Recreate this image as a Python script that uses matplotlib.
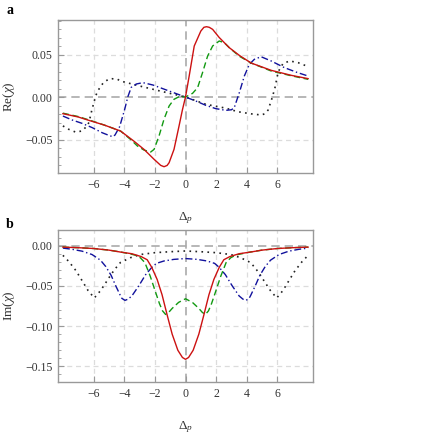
import matplotlib
matplotlib.use("Agg")
import matplotlib.pyplot as plt
from matplotlib.ticker import MultipleLocator, FixedLocator

# ---------------- data ----------------
# Panel a : Re(chi)
re_red_x = [-8.0, -7.0, -6.3, -5.3, -4.24, -3.36, -2.71, -2.05, -1.62, -1.40, -1.2, -1.07, -0.75,
            -0.42, -0.2, 0.0, 0.24, 0.57, 1.0, 1.2, 1.37, 1.55, 1.77, 2.2, 2.86, 3.51, 4.28, 5.59, 6.9, 8.0]
re_red_y = [-0.0196, -0.0235, -0.0275, -0.033, -0.040, -0.052, -0.0616, -0.0733, -0.0804, -0.082,
            -0.0805, -0.0773, -0.0616, -0.034, -0.015, 0.0, 0.0247, 0.060, 0.0776, 0.082, 0.0827,
            0.082, 0.0796, 0.070, 0.058, 0.049, 0.040, 0.0314, 0.0255, 0.0216]

re_green_x = [-8.0, -7.0, -6.3, -5.3, -4.24, -3.58, -3.14, -2.71, -2.27, -2.05, -1.73, -1.40, -1.07,
              -0.75, -0.42, 0.0, 0.46, 0.79, 1.11, 1.44, 1.77, 2.2, 2.53, 2.86, 3.51, 4.28, 5.59, 6.9, 8.0]
re_green_y = [-0.019, -0.023, -0.027, -0.033, -0.040, -0.050, -0.0576, -0.0624, -0.0647, -0.0616,
              -0.046, -0.026, -0.0106, -0.0027, 0.0004, 0.0, 0.0043, 0.011, 0.0286, 0.048, 0.060,
              0.0659, 0.0639, 0.058, 0.048, 0.040, 0.0306, 0.025, 0.0208]

re_blue_x = [-8.0, -7.4, -6.75, -6.09, -5.44, -4.95, -4.75, -4.6, -4.30, -3.98, -3.76, -3.54, -3.21,
             -2.78, -2.12, -1.24, -0.37, 0.0, 0.67, 1.33, 1.98, 2.64, 3.0, 3.18, 3.51, 3.84, 4.17,
             4.49, 4.93, 5.59, 6.46, 7.33, 8.0]
re_blue_y = [-0.0224, -0.027, -0.031, -0.036, -0.042, -0.0455, -0.0467, -0.0447, -0.035, -0.0153,
             0.0004, 0.0114, 0.0153, 0.0169, 0.0141, 0.0082, 0.0024, 0.0, -0.0047, -0.0098, -0.0137,
             -0.0157, -0.015, -0.0126, 0.005, 0.0247, 0.0385, 0.0443, 0.0474, 0.0424, 0.0345,
             0.0286, 0.0247]

re_black_x = [-8.0, -7.62, -7.18, -6.75, -6.48, -6.3, -6.12, -5.85, -5.6, -5.35, -5.0, -4.8, -4.45,
              -4.24, -3.0, -1.65, 0.0, 1.33, 2.6, 3.42, 4.28, 4.95, 5.2, 5.39, 5.61, 5.83, 6.05,
              6.37, 6.81, 7.35, 7.9, 8.0]
re_black_y = [-0.034, -0.038, -0.0412, -0.040, -0.035, -0.030, -0.016, 0.002, 0.011, 0.017, 0.0212,
              0.0215, 0.021, 0.0188, 0.013, 0.007, 0.0, -0.0086, -0.013, -0.0173, -0.0198, -0.0212,
              -0.0195, -0.0153, -0.0035, 0.0102, 0.0298, 0.0396, 0.0424, 0.0404, 0.0365, 0.036]

# Panel b : Im(chi)
im_red_x = [-8.0, -7.0, -6.0, -5.0, -4.25, -3.5, -2.9, -2.5, -2.2, -1.85, -1.53, -1.2, -0.87, -0.5,
            -0.2, 0.0, 0.2, 0.5, 0.87, 1.2, 1.53, 1.85, 2.2, 2.5, 2.9, 3.5, 4.25, 5.0, 6.0, 7.0, 8.0]
im_red_y = [-0.0018, -0.0025, -0.0035, -0.0055, -0.0079, -0.0100, -0.0135, -0.0175, -0.027, -0.042,
            -0.061, -0.086, -0.110, -0.130, -0.139, -0.1413, -0.139, -0.130, -0.110, -0.086, -0.061,
            -0.042, -0.027, -0.0175, -0.0135, -0.0100, -0.0079, -0.0055, -0.0035, -0.0025, -0.0018]

im_green_x = [-8.0, -7.0, -6.0, -5.0, -4.25, -3.5, -3.25, -2.95, -2.65, -2.3, -1.95, -1.7, -1.5, -1.3,
              -1.1, -0.87, -0.45, 0.0, 0.45, 0.87, 1.1, 1.3, 1.5, 1.7, 1.95, 2.3, 2.65, 2.95, 3.25,
              3.5, 4.25, 5.0, 6.0, 7.0, 8.0]
im_green_y = [-0.0018, -0.0025, -0.0035, -0.0055, -0.0078, -0.0107, -0.012, -0.015, -0.021, -0.038,
              -0.058, -0.072, -0.081, -0.0855, -0.083, -0.078, -0.0705, -0.066, -0.0705, -0.078,
              -0.083, -0.0855, -0.081, -0.072, -0.058, -0.038, -0.021, -0.015, -0.012, -0.0107,
              -0.0078, -0.0055, -0.0035, -0.0025, -0.0018]

im_blue_x = [-8.0, -7.4, -6.75, -6.1, -5.55, -5.2, -4.85, -4.55, -4.25, -4.15, -3.95, -3.75, -3.5,
             -3.05, -2.6, -2.2, -1.9, -1.4, -0.75, 0.0, 0.75, 1.4, 1.9, 2.2, 2.6, 3.05, 3.5, 3.75,
             3.95, 4.15, 4.25, 4.55, 4.85, 5.2, 5.55, 6.1, 6.75, 7.4, 8.0]
im_blue_y = [-0.003, -0.0045, -0.0068, -0.011, -0.018, -0.026, -0.037, -0.050, -0.062, -0.0655,
             -0.068, -0.0665, -0.0625, -0.050, -0.036, -0.027, -0.022, -0.019, -0.017, -0.016,
             -0.017, -0.019, -0.022, -0.027, -0.036, -0.050, -0.0625, -0.0665, -0.068, -0.0655,
             -0.062, -0.050, -0.037, -0.026, -0.018, -0.011, -0.0068, -0.0045, -0.003]

im_black_x = [-8.0, -7.6, -7.15, -6.7, -6.35, -5.95, -5.55, -5.2, -4.9, -4.6, -4.25, -3.6, -2.95,
              -2.0, -1.0, 0.0, 1.0, 2.0, 2.95, 3.6, 4.25, 4.6, 4.9, 5.2, 5.55, 5.95, 6.35, 6.7,
              7.15, 7.6, 8.0]
im_black_y = [-0.012, -0.020, -0.031, -0.045, -0.056, -0.065, -0.056, -0.046, -0.037, -0.029,
              -0.021, -0.015, -0.011, -0.0087, -0.0075, -0.0066, -0.0075, -0.0087, -0.011, -0.015,
              -0.021, -0.029, -0.037, -0.046, -0.056, -0.065, -0.056, -0.045, -0.031, -0.020, -0.012]

x_ticks = [-6, -4, -2, 0, 2, 4, 6]
re_ticks = [-0.05, 0.00, 0.05]
im_ticks = [-0.15, -0.10, -0.05, 0.00]

# ---------------- styling ----------------
plt.rcParams['font.family'] = ['Liberation Serif', 'DejaVu Serif']
plt.rcParams['mathtext.fontset'] = 'custom'
plt.rcParams['mathtext.rm'] = 'Liberation Serif'
plt.rcParams['mathtext.it'] = 'Liberation Serif:italic'

RED = '#cc1111'
GREEN = '#119911'
BLUE = '#11119c'
BLACK = '#222222'
FRAME = '#999999'
GRID = '#dcdcdc'
ZERO = '#aaaaaa'
TXT = '#333333'

fig = plt.figure(figsize=(4.36, 4.36), dpi=100)
ax_a = fig.add_axes([58/436, 1-173/436, 255/436, 153/436])
ax_b = fig.add_axes([58/436, 1-382/436, 255/436, 152/436])


def style(ax, yticks, ylim, ylabel):
    ax.set_xlim(-8.32, 8.32)
    ax.set_ylim(*ylim)
    for s in ax.spines.values():
        s.set_color(FRAME)
        s.set_linewidth(1.0)
    for xv in x_ticks:
        if xv != 0:
            ax.axvline(xv, color=GRID, lw=0.9, ls=(0, (4, 3)), zorder=0)
    for yv in yticks:
        if abs(yv) > 1e-9:
            ax.axhline(yv, color=GRID, lw=0.9, ls=(0, (4, 3)), zorder=0)
    ax.axvline(0, color=ZERO, lw=1.2, ls=(0, (5, 3)), zorder=1)
    ax.axhline(0, color=ZERO, lw=1.2, ls=(0, (5, 3)), zorder=1)
    ax.xaxis.set_major_locator(FixedLocator(x_ticks))
    ax.yaxis.set_major_locator(FixedLocator(yticks))
    ax.yaxis.set_minor_locator(MultipleLocator(0.01))
    ax.set_xticklabels([f"{v}".replace('-', '\u2212') for v in x_ticks])
    ax.set_yticklabels([f"{v:.2f}".replace('-', '\u2212') for v in yticks])
    ax.tick_params(axis='both', which='major', direction='in', length=4, width=0.8,
                   color=FRAME, labelcolor=TXT, labelsize=8.5, pad=4)
    ax.tick_params(axis='y', which='minor', direction='in', length=2, width=0.6, color=FRAME)
    ax.tick_params(axis='x', which='minor', bottom=False)
    ax.set_xlabel(r'$\Delta_p$', fontsize=9.5, color=TXT, labelpad=14)
    ax.set_ylabel(ylabel, fontsize=9.5, color=TXT, labelpad=6)


style(ax_a, re_ticks, (-0.0894, 0.0906), r'Re$(\chi)$')
style(ax_b, im_ticks, (-0.1695, 0.0195), r'Im$(\chi)$')

lw = 1.0
ax_a.plot(re_black_x, re_black_y, color=BLACK, lw=1.2, ls=(0, (1, 2.6)), zorder=3)
ax_a.plot(re_blue_x, re_blue_y, color=BLUE, lw=lw, ls=(0, (5, 2, 1, 2)), zorder=3)
ax_a.plot(re_green_x, re_green_y, color=GREEN, lw=lw, ls=(0, (4.5, 2.5)), zorder=3)
ax_a.plot(re_red_x, re_red_y, color=RED, lw=lw, zorder=4)

ax_b.plot(im_black_x, im_black_y, color=BLACK, lw=1.2, ls=(0, (1, 2.6)), zorder=3)
ax_b.plot(im_blue_x, im_blue_y, color=BLUE, lw=lw, ls=(0, (5, 2, 1, 2)), zorder=3)
ax_b.plot(im_green_x, im_green_y, color=GREEN, lw=lw, ls=(0, (4.5, 2.5)), zorder=3)
ax_b.plot(im_red_x, im_red_y, color=RED, lw=lw, zorder=4)

fig.text(6/436, 1-11/436, 'a', fontsize=10, fontweight='bold', va='center', ha='left')
fig.text(6/436, 1-224/436, 'b', fontsize=10, fontweight='bold', va='center', ha='left')

fig.savefig('out.png', dpi=100)
